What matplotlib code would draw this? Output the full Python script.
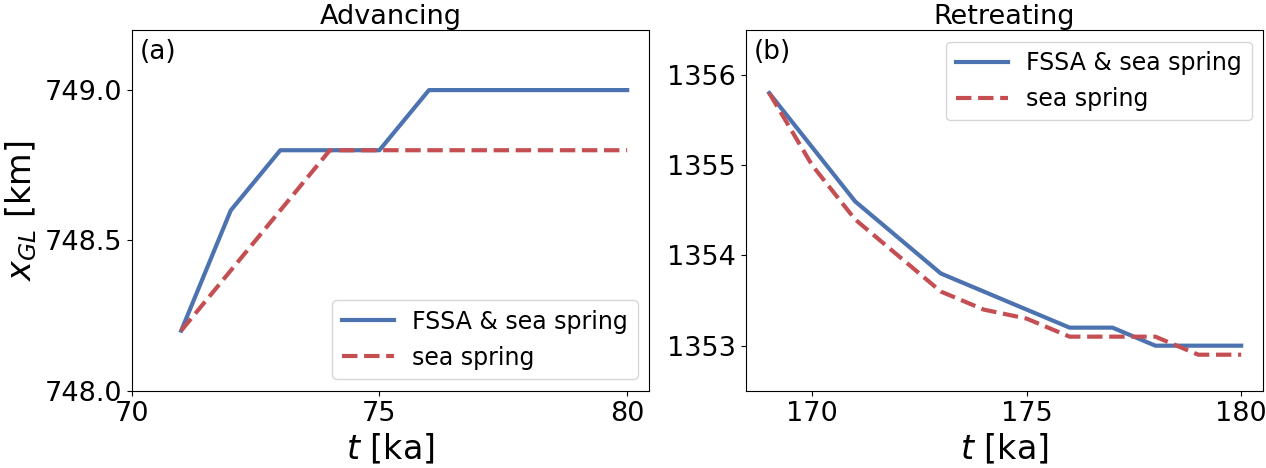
import numpy as np
import matplotlib
matplotlib.use('Agg')
import matplotlib.pyplot as plt

# Advancing case
t_adv = [71, 72, 73, 74, 75, 76, 77, 78, 79, 80]
x_adv_fssa = [748.2, 748.6, 748.8, 748.8, 748.8, 749.0, 749.0, 749.0, 749.0, 749.0]
x_adv_sea = [748.2, 748.4, 748.6, 748.8, 748.8, 748.8, 748.8, 748.8, 748.8, 748.8]

# Retreating case
t_ret = [169, 170, 171, 172, 173, 174, 175, 176, 177, 178, 179, 180]
x_ret_fssa = [1355.8, 1355.2, 1354.6, 1354.2, 1353.8, 1353.6, 1353.4, 1353.2, 1353.2, 1353.0, 1353.0, 1353.0]
x_ret_sea = [1355.8, 1355.0, 1354.4, 1354.0, 1353.6, 1353.4, 1353.3, 1353.1, 1353.1, 1353.1, 1352.9, 1352.9]

blue = '#4C72B0'
red = '#C44E52'

fig = plt.figure(figsize=(12.66, 4.68), dpi=100)
ax1 = fig.add_axes([0.104, 0.165, 0.409, 0.771])
ax2 = fig.add_axes([0.589, 0.165, 0.409, 0.771])

# Panel (a)
ax1.plot(t_adv, x_adv_fssa, '-', color=blue, lw=3, label='FSSA & sea spring')
ax1.plot(t_adv, x_adv_sea, '--', color=red, lw=3, label='sea spring')
ax1.set_xlim(70, 80.45)
ax1.set_ylim(748.0, 749.2)
ax1.set_xticks([70, 75, 80])
ax1.set_yticks([748.0, 748.5, 749.0])
ax1.set_yticklabels(['748.0', '748.5', '749.0'])
ax1.set_title('Advancing', fontsize=19.5, pad=3)
ax1.set_xlabel('$t$ [ka]', fontsize=24)
ax1.set_ylabel('$x_{GL}$ [km]', fontsize=24)
ax1.tick_params(labelsize=19.5)
ax1.text(0.015, 0.975, '(a)', transform=ax1.transAxes, fontsize=19, va='top', ha='left')
ax1.legend(loc='lower right', fontsize=17, handlelength=2.2)

# Panel (b)
ax2.plot(t_ret, x_ret_fssa, '-', color=blue, lw=3, label='FSSA & sea spring')
ax2.plot(t_ret, x_ret_sea, '--', color=red, lw=3, label='sea spring')
ax2.set_xlim(168.45, 180.52)
ax2.set_ylim(1352.5, 1356.5)
ax2.set_xticks([170, 175, 180])
ax2.set_yticks([1353, 1354, 1355, 1356])
ax2.set_title('Retreating', fontsize=19.5, pad=3)
ax2.set_xlabel('$t$ [ka]', fontsize=24)
ax2.tick_params(labelsize=19.5)
ax2.text(0.015, 0.975, '(b)', transform=ax2.transAxes, fontsize=19, va='top', ha='left')
ax2.legend(loc='upper right', fontsize=17, handlelength=2.2)

plt.savefig('out.png', dpi=100)
